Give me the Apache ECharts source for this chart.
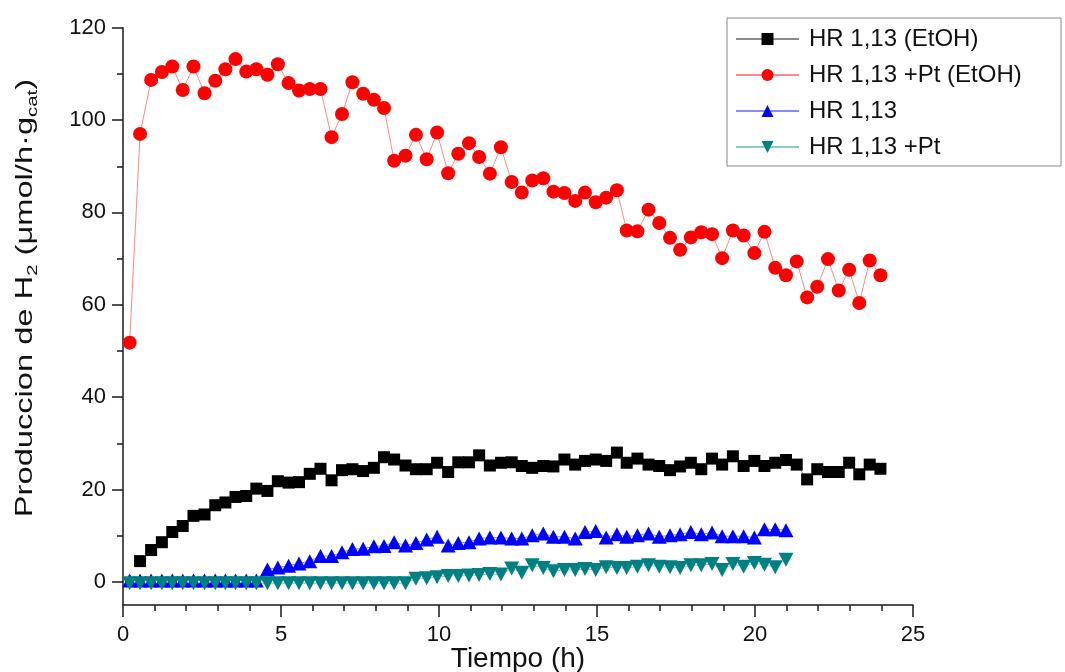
<!DOCTYPE html>
<html>
<head>
<meta charset="utf-8">
<script src="https://cdn.jsdelivr.net/npm/echarts@6/dist/echarts.min.js"></script>
<style>
  html, body { margin: 0; padding: 0; background: #fff; }
  #chart { width: 1065px; height: 672px; }
</style>
</head>
<body>
<div id="chart"></div>
<script>
// Sampling times (h)
const tiempo = [0.21, 0.54, 0.89, 1.23, 1.56, 1.89, 2.23, 2.58, 2.92, 3.24, 3.56, 3.90, 4.22, 4.57, 4.90,
  5.24, 5.57, 5.91, 6.25, 6.60, 6.93, 7.26, 7.60, 7.94, 8.26, 8.58, 8.94, 9.27, 9.61, 9.94, 10.29, 10.61,
  10.95, 11.27, 11.61, 11.96, 12.30, 12.62, 12.95, 13.30, 13.62, 13.97, 14.31, 14.62, 14.96, 15.29, 15.63,
  15.94, 16.28, 16.63, 16.97, 17.31, 17.63, 17.97, 18.30, 18.64, 18.96, 19.30, 19.64, 19.98, 20.30, 20.64,
  20.98, 21.32, 21.65, 21.97, 22.31, 22.65, 22.98, 23.30, 23.63, 23.97];

// H2 production (µmol/h·g_cat)
// HR 1,13 (EtOH): starts at the second sampling time
const hrEtoh = [4.5, 6.9, 8.6, 10.8, 12.1, 14.3, 14.6, 16.6, 17.2, 18.4, 18.6, 20.2, 19.7, 21.8, 21.5,
  21.6, 23.4, 24.5, 22.0, 24.2, 24.4, 24.0, 24.7, 27.0, 26.5, 25.2, 24.4, 24.4, 25.8, 23.8, 25.9, 25.9,
  27.4, 25.2, 25.8, 25.9, 25.1, 24.7, 25.1, 25.0, 26.5, 25.4, 26.2, 26.5, 26.2, 28.0, 25.8, 26.7, 25.4,
  25.1, 24.2, 25.0, 25.8, 24.4, 26.7, 25.4, 27.2, 25.1, 26.2, 25.1, 25.8, 26.4, 25.4, 22.2, 24.4, 23.8,
  23.8, 25.8, 23.3, 25.4, 24.5];

// HR 1,13 +Pt (EtOH)
const hrPtEtoh = [51.8, 97.0, 108.7, 110.4, 111.6, 106.5, 111.6, 105.8, 108.5, 111.0, 113.2, 110.5, 111.0,
  109.8, 112.1, 108.0, 106.4, 106.7, 106.7, 96.3, 101.3, 108.2, 105.7, 104.4, 102.6, 91.2, 92.3, 96.8,
  91.5, 97.3, 88.5, 92.7, 95.0, 92.0, 88.4, 94.1, 86.6, 84.3, 86.9, 87.4, 84.5, 84.2, 82.5, 84.3, 82.2,
  83.2, 84.8, 76.1, 75.9, 80.6, 77.7, 74.5, 71.9, 74.6, 75.7, 75.3, 70.1, 76.1, 75.0, 71.2, 75.8, 68.0,
  66.4, 69.4, 61.6, 63.9, 69.9, 63.1, 67.6, 60.4, 69.6, 66.4];

// HR 1,13 (until ~21 h)
const hr = [0.3, 0.3, 0.3, 0.3, 0.3, 0.3, 0.3, 0.3, 0.3, 0.3, 0.3, 0.3, 0.3, 2.7, 3.1, 3.5, 4.0, 4.5,
  5.6, 5.6, 6.4, 7.1, 7.2, 7.7, 7.8, 8.6, 7.9, 8.4, 9.2, 9.8, 7.9, 8.4, 8.6, 9.4, 9.6, 9.6, 9.4, 9.4,
  10.1, 10.5, 9.8, 9.8, 9.4, 10.8, 11.0, 9.6, 10.3, 9.8, 10.1, 10.5, 9.8, 10.1, 10.3, 10.8, 10.3, 10.7,
  9.9, 9.9, 9.9, 9.6, 11.4, 11.4, 11.2];

// HR 1,13 +Pt (until ~21 h)
const hrPt = [-0.3, -0.3, -0.3, -0.3, -0.3, -0.3, -0.3, -0.3, -0.3, -0.3, -0.3, -0.3, -0.3, -0.3, -0.3,
  -0.3, -0.3, -0.3, -0.3, -0.3, -0.3, -0.3, -0.3, -0.3, -0.3, -0.3, -0.3, 0.7, 0.8, 1.0, 1.3, 1.3, 1.4,
  1.5, 1.7, 1.6, 2.9, 2.0, 3.6, 3.0, 2.3, 2.6, 2.6, 2.8, 2.6, 3.2, 3.0, 3.0, 3.3, 3.6, 3.3, 3.2, 3.0,
  3.6, 3.6, 3.9, 2.6, 3.9, 3.3, 4.1, 3.7, 3.2, 4.8];

const seriesNames = ['HR 1,13 (EtOH)', 'HR 1,13 +Pt (EtOH)', 'HR 1,13', 'HR 1,13 +Pt'];
const yMajorTicks = [0, 20, 40, 60, 80, 100, 120];
const yMinorTicks = [10, 30, 50, 70, 90, 110];

function pairs(times, values) {
  return values.map((v, i) => [times[i], v]);
}

const FONT = 'Liberation Sans, Arial, Helvetica, sans-serif';
const AXIS_COLOR = '#1a1a1a';

const chart = echarts.init(document.getElementById('chart'), null, { renderer: 'canvas' });

chart.setOption({
  animation: false,
  backgroundColor: '#ffffff',
  grid: { left: 123, right: 152, top: 27.7, bottom: 67, containLabel: false, outerBoundsMode: 'none' },
  // y-axis title, stretched along its reading direction
  graphic: [{
    type: 'text',
    x: 25,
    y: 298,
    rotation: Math.PI / 2,
    scaleX: 1.36,
    style: {
      text: '{a|Produccion de H}{s|2}{a| (μmol/h·g}{s|cat}{a|)}',
      align: 'center',
      verticalAlign: 'middle',
      rich: {
        a: { fontFamily: FONT, fontSize: 24, fill: '#111', lineHeight: 30 },
        s: { fontFamily: FONT, fontSize: 15, fill: '#111', lineHeight: 15, verticalAlign: 'bottom' }
      }
    }
  }],
  legend: {
    orient: 'vertical',
    left: 727,
    top: 18,
    padding: [9, 10, 7, 8],
    itemGap: 12,
    itemWidth: 63,
    itemHeight: 15,
    borderColor: '#8a8a8a',
    borderWidth: 1,
    backgroundColor: '#ffffff',
    textStyle: { fontFamily: FONT, fontSize: 24, color: '#111', lineHeight: 23, width: 242,
      padding: [0, 0, 0, 5] },
    data: seriesNames
  },
  xAxis: {
    type: 'value',
    min: 0,
    max: 25,
    interval: 5,
    name: 'Tiempo (h)',
    nameLocation: 'middle',
    nameGap: 40,
    nameMoveOverlap: false,
    nameTextStyle: { fontFamily: FONT, fontSize: 28, color: '#111' },
    axisLine: { show: true, onZero: false, lineStyle: { color: AXIS_COLOR, width: 1.5 } },
    axisTick: { show: true, inside: false, length: 12, lineStyle: { color: AXIS_COLOR, width: 1.5 } },
    minorTick: { show: true, splitNumber: 5, length: 6, lineStyle: { color: AXIS_COLOR, width: 1.5 } },
    axisLabel: { fontFamily: FONT, fontSize: 22, color: '#111', margin: 19 },
    splitLine: { show: false },
    minorSplitLine: { show: false }
  },
  yAxis: [
    {
      type: 'value',
      min: -5,
      max: 120,
      position: 'left',
      axisLine: { show: true, onZero: false, lineStyle: { color: AXIS_COLOR, width: 1.5 } },
      axisTick: { show: true, inside: false, length: 11, customValues: yMajorTicks,
        lineStyle: { color: AXIS_COLOR, width: 1.5 } },
      axisLabel: { fontFamily: FONT, fontSize: 22, color: '#111', margin: 17, customValues: yMajorTicks },
      splitLine: { show: false }
    },
    {
      // minor ticks between the labelled ones
      type: 'value',
      min: -5,
      max: 120,
      position: 'left',
      axisLine: { show: false },
      axisTick: { show: true, inside: false, length: 6, customValues: yMinorTicks,
        lineStyle: { color: AXIS_COLOR, width: 1.5 } },
      axisLabel: { show: false, customValues: yMinorTicks },
      splitLine: { show: false }
    }
  ],
  series: [
    {
      name: seriesNames[0],
      type: 'line',
      data: pairs(tiempo.slice(1), hrEtoh),
      symbol: 'rect',
      symbolSize: 12,
      itemStyle: { color: '#000000' },
      lineStyle: { color: '#8c8c8c', width: 1 }
    },
    {
      name: seriesNames[1],
      type: 'line',
      data: pairs(tiempo, hrPtEtoh),
      symbol: 'circle',
      symbolSize: 14,
      itemStyle: { color: '#ff0000' },
      lineStyle: { color: '#ff8a8a', width: 1 }
    },
    {
      name: seriesNames[2],
      type: 'line',
      data: pairs(tiempo, hr),
      symbol: 'triangle',
      symbolSize: [15, 14],
      itemStyle: { color: '#0000ff' },
      lineStyle: { color: '#8a8aff', width: 1 }
    },
    {
      name: seriesNames[3],
      type: 'line',
      data: pairs(tiempo, hrPt),
      symbol: 'triangle',
      symbolRotate: 180,
      symbolSize: [15, 14],
      itemStyle: { color: '#008080' },
      lineStyle: { color: '#8cc8c8', width: 1 }
    }
  ]
});
</script>
</body>
</html>
